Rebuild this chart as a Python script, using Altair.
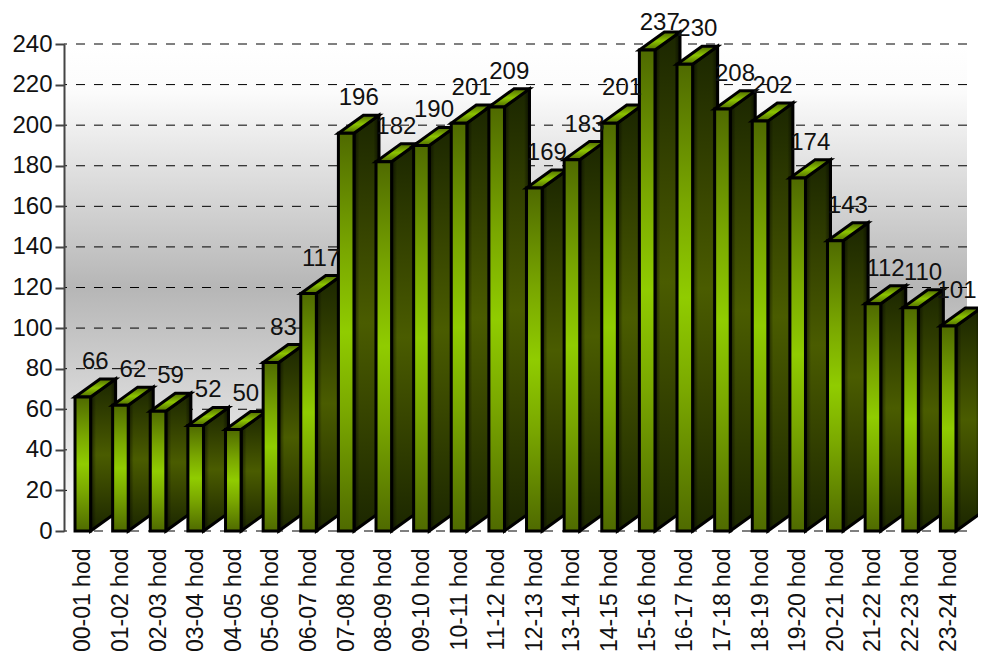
import json
import altair as alt
import pandas as pd

hours = ["00-01 hod","01-02 hod","02-03 hod","03-04 hod","04-05 hod","05-06 hod","06-07 hod","07-08 hod",
         "08-09 hod","09-10 hod","10-11 hod","11-12 hod","12-13 hod","13-14 hod","14-15 hod","15-16 hod",
         "16-17 hod","17-18 hod","18-19 hod","19-20 hod","20-21 hod","21-22 hod","22-23 hod","23-24 hod"]
counts = [66,62,59,52,50,83,117,196,182,190,201,209,169,183,201,237,230,208,202,174,143,112,110,101]
y_ticks = list(range(0, 241, 20))

FONT = "Liberation Sans"
BAR_L, BAR_R = 0.293, 0.707   # front face within its category slot
DX, DY = 0.665, 8.9           # 3-D depth, in x and y data units
LABEL_MAX_Y = 242             # keeps the tallest value label inside the canvas
LABEL_MAX_X = 23.72           # keeps the last value label inside the canvas
STROKE = 3


def grad(stops, x2=0, y2=1):
    return alt.LinearGradient(
        gradient="linear", x1=0, y1=0, x2=x2, y2=y2,
        stops=[alt.GradientStop(color=c, offset=o) for o, c in stops])


front_fill = grad([(0, "#4f6a00"), (0.3, "#7aa800"), (0.5, "#90cc00"), (0.7, "#7aa800"), (1, "#4f6a00")])
side_fill = grad([(0, "#1b2600"), (0.3, "#384600"), (0.5, "#4a5c00"), (0.7, "#384600"), (1, "#1b2600")])
top_fill = grad([(0, "#4f6a00"), (0.5, "#8cc400"), (1, "#4f6a00")])
back_fill = grad([(0, "#ffffff"), (0.1, "#fbfbfb"), (0.5, "#b6b6b6"), (1, "#ffffff")])
edge_shade = grad([(0, "rgba(0,0,0,0.6)"), (0.22, "rgba(0,0,0,0)"), (0.78, "rgba(0,0,0,0)"), (1, "rgba(0,0,0,0.6)")],
                  x2=1, y2=0)

front = pd.DataFrame({"l": [i + BAR_L for i in range(24)], "r": [i + BAR_R for i in range(24)],
                      "v": counts, "b": [0] * 24})

side_rows, top_rows = [], []
for i, v in enumerate(counts):
    side_rows += [{"bar": i, "x": i + BAR_R, "y": v, "y0": 0},
                  {"bar": i, "x": i + BAR_R + DX, "y": v + DY, "y0": DY}]
    top_rows += [{"bar": i, "y": v, "x": i + BAR_L, "x1": i + BAR_R},
                 {"bar": i, "y": v + DY, "x": i + BAR_L + DX, "x1": i + BAR_R + DX}]
side = pd.DataFrame(side_rows)
top = pd.DataFrame(top_rows)
text = pd.DataFrame({"x": [min(i + (BAR_L + BAR_R + DX) / 2, LABEL_MAX_X) for i in range(24)],
                     "y": [min(v + DY, LABEL_MAX_Y) for v in counts], "label": counts})

x_scale = alt.Scale(domain=[0, 24], nice=False, zero=False)
y_scale = alt.Scale(domain=[0, 240], nice=False, zero=False)

y_axis = alt.Axis(values=y_ticks, title=None, grid=False, tickSize=9, tickColor="#444444", tickWidth=2,
                  domainColor="#444444", domainWidth=2, labelFontSize=24, labelFont=FONT, labelColor="#111111",
                  labelPadding=3, labelOverlap=False, labelFlush=False, labelBound=False, zindex=1)
x_axis = alt.Axis(values=[i + 0.5 for i in range(24)], title=None, grid=False, ticks=False, domain=False,
                  labelExpr=json.dumps(hours) + "[round(datum.value - 0.5)]", labelAngle=270, labelAlign="right",
                  labelBaseline="middle", labelFontSize=23, labelFont=FONT, labelColor="#111111", labelPadding=17,
                  labelOverlap=False, labelFlush=False, labelBound=False, zindex=1)

X = lambda f, **k: alt.X(f, scale=x_scale, axis=x_axis, **k)
Y = lambda f, **k: alt.Y(f, scale=y_scale, axis=y_axis, **k)

backdrop = alt.Chart(pd.DataFrame({"a": [0], "b": [24], "c": [0], "d": [240]})).mark_rect(fill=back_fill).encode(
    x=X("a:Q"), x2="b:Q", y=Y("c:Q"), y2="d:Q")

grid = alt.Chart(pd.DataFrame({"t": y_ticks})).mark_rule(color="#000000", strokeWidth=1, strokeDash=[9, 9]).encode(
    y=Y("t:Q"))

sides = alt.Chart(side).mark_area(fill=side_fill).encode(
    x=X("x:Q"), y=Y("y:Q", stack=None), y2="y0:Q", detail="bar:N")
side_shade = alt.Chart(side).mark_area(fill=edge_shade, stroke="#000000", strokeWidth=STROKE).encode(
    x=X("x:Q"), y=Y("y:Q", stack=None), y2="y0:Q", detail="bar:N")

tops = alt.Chart(top).mark_area(fill=top_fill, stroke="#000000", strokeWidth=STROKE, orient="horizontal").encode(
    x=X("x:Q", stack=None), x2="x1:Q", y=Y("y:Q"), detail="bar:N")

fronts = alt.Chart(front).mark_rect(fill=front_fill, stroke="#000000", strokeWidth=STROKE).encode(
    x=X("l:Q"), x2="r:Q", y=Y("v:Q"), y2="b:Q")

labels = alt.Chart(text).mark_text(font=FONT, fontSize=24, color="#111111", dy=-10, baseline="alphabetic",
                                   align="center").encode(
    x=X("x:Q"), y=Y("y:Q"), text="label:N")

chart = alt.layer(backdrop, grid, sides, side_shade, tops, fronts, labels).properties(
    width=903, height=487, background="#ffffff",
    padding={"left": 56, "top": 36, "right": 11, "bottom": 125},
    autosize=alt.AutoSizeParams(type="none"),
).configure_view(stroke=None)

chart.save("out.html", embed_options={"renderer": "svg", "actions": False})
